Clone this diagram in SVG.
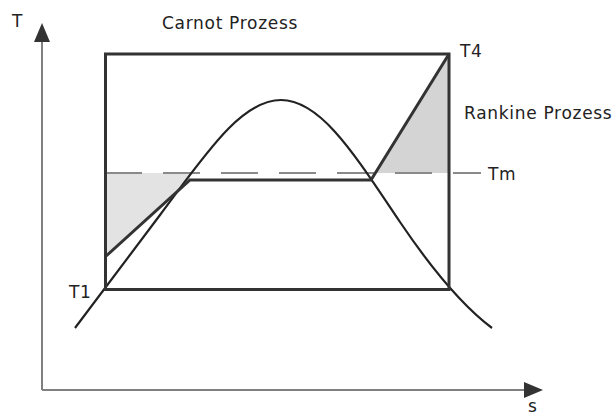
<svg xmlns="http://www.w3.org/2000/svg" width="612" height="416" viewBox="0 0 612 416">
  <style>
    .lbl { font-family: "DejaVu Sans", Verdana, sans-serif; font-size: 17px; fill: #222; letter-spacing: 0.7px; }
    .axis { stroke: #808080; stroke-width: 2; fill: none; }
    .thick { stroke: #333; stroke-width: 3; fill: none; stroke-linejoin: miter; }
    .dome { stroke: #222; stroke-width: 2.2; fill: none; }
    .dash { stroke: #8a8a8a; stroke-width: 2.2; stroke-dasharray: 37 21; fill: none; }
  </style>
  <rect width="612" height="416" fill="#fff"/>

  <g id="shading">
    <polygon points="105,173 190,173 190,180 105,257" fill="#e3e3e3"/>
    <polygon points="375,173 449,54 449,173" fill="#d4d4d4"/>
  </g>

  <g id="axes">
    <line class="axis" x1="42" y1="40" x2="42" y2="390"/>
    <line class="axis" x1="42" y1="390" x2="526" y2="390"/>
    <polygon points="42,23 34,42 50,42" fill="#333"/>
    <polygon points="543,390 524,382 524,398" fill="#333"/>
  </g>

  <g id="tm-line">
    <line class="dash" x1="105" y1="173" x2="481" y2="173"/>
  </g>

  <g id="dome">
    <path class="dome" d="M75,328 L160,215 C205,155 241,100 281,100 C321,100 355,155 400,222 C435,273.8 467,309.25 492,328"/>
  </g>

  <g id="carnot">
    <rect class="thick" x="105.5" y="54" width="343.5" height="235.5"/>
  </g>

  <g id="rankine">
    <polyline class="thick" points="105,257 190,180 371,180 449,54"/>
  </g>

  <g id="labels">
    <text class="lbl" x="12" y="27">T</text>
    <text class="lbl" x="162" y="29">Carnot Prozess</text>
    <text class="lbl" x="460" y="57">T4</text>
    <text class="lbl" x="464" y="118.5">Rankine Prozess</text>
    <text class="lbl" x="488" y="180">Tm</text>
    <text class="lbl" x="69" y="297.5">T1</text>
    <text class="lbl" x="528" y="412">s</text>
  </g>
</svg>
